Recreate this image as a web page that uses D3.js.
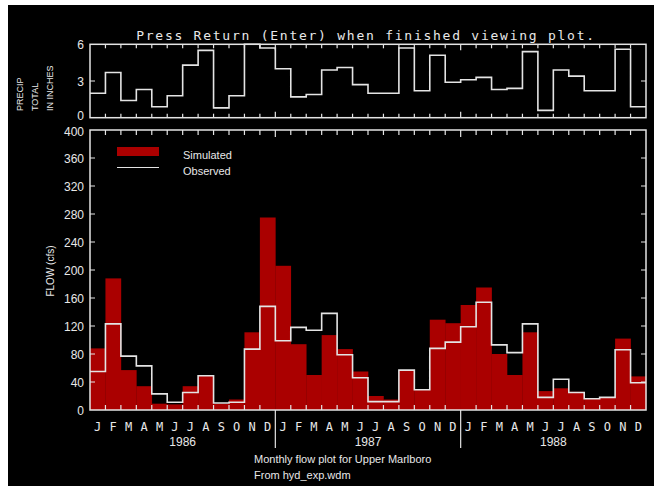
<!DOCTYPE html>
<html><head><meta charset="utf-8">
<script src="https://cdn.jsdelivr.net/npm/d3@7"></script>
<style>
html,body{margin:0;padding:0;background:#fff;}
svg{display:block;}
text{fill:#e8e8e8;}
</style></head>
<body>
<script>
const monthLetters = ["J","F","M","A","M","J","J","A","S","O","N","D"];
const years = ["1986","1987","1988"];
const simulated = [88,188,57,34,9,8,34,49,9,15,111,275,206,94,50,107,87,55,20,15,57,29,129,124,150,175,80,50,111,27,31,26,17,18,102,48];
const observed  = [55,123,77,63,23,11,25,49,10,11,87,148,99,118,114,138,79,46,12,12,57,29,88,97,119,154,93,82,123,18,44,25,16,18,86,39];
const precip    = [2.0,3.7,1.4,2.3,0.9,1.8,4.3,5.5,0.8,1.8,6.0,5.7,4.0,1.7,1.9,3.9,4.1,2.7,2.0,2.0,5.7,2.2,5.1,2.9,3.1,3.3,2.3,2.4,5.4,0.6,3.9,3.4,2.2,2.2,5.6,0.9];
const flowTicks = [0,40,80,120,160,200,240,280,320,360,400];
const precipTicks = [0,3,6];
const title = "Press Return (Enter) when finished viewing plot.";
const captions = ["Monthly flow plot for Upper Marlboro","From hyd_exp.wdm"];
const legendLabels = ["Simulated","Observed"];
const flowLabel = "FLOW (cfs)";
const precipLabels = ["PRECIP","TOTAL","IN INCHES"];

const W=654,H=486;
const RED="#aa0000", FG="#e4e4e4";
const svg=d3.select("body").append("svg").attr("width",W).attr("height",H);
svg.append("rect").attr("x",8).attr("y",5).attr("width",W-8).attr("height",H-5).attr("fill","#000");

const n=36;
const x=d3.scaleLinear().domain([0,n]).range([90,646]);
const yF=d3.scaleLinear().domain([0,400]).range([410,130]);
const yP=d3.scaleLinear().domain([0,6]).range([117.7,44.3]);
const mono="'DejaVu Sans Mono', monospace";
const sans="'Liberation Sans', Arial, sans-serif";
const narrow="'Liberation Sans Narrow', 'Liberation Sans', Arial, sans-serif";

// title
svg.append("text").attr("x",366).attr("y",40).attr("text-anchor","middle")
  .style("font-family",mono).style("font-size","13px").style("letter-spacing","1.75px").text(title);

// ---- precip panel
const gp=svg.append("g");
const stepData=d=>d.map((v,i)=>[i,v]).concat([[n,d[n-1]]]);
gp.append("path").datum(stepData(precip))
  .attr("d",d3.line().x(d=>x(d[0])).y(d=>yP(Math.min(d[1],6))).curve(d3.curveStepAfter))
  .attr("fill","none").attr("stroke",FG).attr("stroke-width",1.6);
gp.append("rect").attr("x",x(0)).attr("y",yP(6)).attr("width",x(n)-x(0)).attr("height",yP(0)-yP(6))
  .attr("fill","none").attr("stroke",FG).attr("stroke-width",1.5);
const mtick=d3.range(1,n);
gp.selectAll(".pt").data(mtick).join("line")
  .attr("x1",d=>x(d)).attr("x2",d=>x(d)).attr("y1",yP(6)).attr("y2",d=>yP(6)+(d%12===0?6:4))
  .attr("stroke",FG).attr("stroke-width",1.2);
gp.selectAll(".pb").data(mtick).join("line")
  .attr("x1",d=>x(d)).attr("x2",d=>x(d)).attr("y1",yP(0)).attr("y2",d=>yP(0)-(d%12===0?6:4))
  .attr("stroke",FG).attr("stroke-width",1.2);
gp.selectAll(".pl").data(precipTicks.slice(1,2)).join("line")
  .attr("x1",x(0)).attr("x2",x(0)+5).attr("y1",d=>yP(d)).attr("y2",d=>yP(d)).attr("stroke",FG);
gp.selectAll(".pr").data(precipTicks.slice(1,2)).join("line")
  .attr("x1",x(n)).attr("x2",x(n)-5).attr("y1",d=>yP(d)).attr("y2",d=>yP(d)).attr("stroke",FG);
gp.selectAll(".ptl").data(precipTicks).join("text")
  .attr("x",84).attr("y",d=>yP(d)+(d===0?2.5:4.5)).attr("text-anchor","end")
  .style("font-family",narrow).style("font-size","12px").text(d=>d);
const plg=gp.selectAll(".plg").data(precipLabels).join("g")
  .attr("transform",(d,i)=>"translate("+(23+i*15)+",111)");
plg.append("text").attr("transform","rotate(-90)").attr("x",0).attr("y",0)
  .attr("text-anchor","start").style("font-family",narrow).style("font-size","9px").text(d=>d);

// ---- flow panel
const gf=svg.append("g");
gf.selectAll(".bar").data(simulated).join("rect")
  .attr("x",(d,i)=>x(i)).attr("width",(d,i)=>x(i+1)-x(i)+0.3)
  .attr("y",d=>yF(d)).attr("height",d=>yF(0)-yF(d)).attr("fill",RED);
gf.append("path").datum(stepData(observed))
  .attr("d",d3.line().x(d=>x(d[0])).y(d=>yF(d[1])).curve(d3.curveStepAfter))
  .attr("fill","none").attr("stroke",FG).attr("stroke-width",1.6);
gf.append("rect").attr("x",x(0)).attr("y",yF(400)).attr("width",x(n)-x(0)).attr("height",yF(0)-yF(400))
  .attr("fill","none").attr("stroke",FG).attr("stroke-width",1.5);
gf.selectAll(".ft").data(mtick).join("line")
  .attr("x1",d=>x(d)).attr("x2",d=>x(d)).attr("y1",yF(400)).attr("y2",d=>yF(400)+(d%12===0?7:5))
  .attr("stroke",FG).attr("stroke-width",1.2);
gf.selectAll(".fb").data(mtick).join("line")
  .attr("x1",d=>x(d)).attr("x2",d=>x(d)).attr("y1",yF(0)).attr("y2",d=>d%12===0?yF(0)+38:yF(0)-5)
  .attr("stroke",FG).attr("stroke-width",1.2);
gf.selectAll(".fl").data(flowTicks.slice(1,-1)).join("line")
  .attr("x1",x(0)).attr("x2",x(0)+5).attr("y1",d=>yF(d)).attr("y2",d=>yF(d)).attr("stroke",FG);
gf.selectAll(".fr").data(flowTicks.slice(1,-1)).join("line")
  .attr("x1",x(n)).attr("x2",x(n)-5).attr("y1",d=>yF(d)).attr("y2",d=>yF(d)).attr("stroke",FG);
gf.selectAll(".ftl").data(flowTicks).join("text")
  .attr("x",84).attr("y",d=>yF(d)+(d===400?6:4.5)).attr("text-anchor","end")
  .style("font-family",narrow).style("font-size","12px").text(d=>d);
gf.append("text").attr("transform",`translate(54,271) rotate(-90)`).attr("text-anchor","middle")
  .style("font-family",narrow).style("font-size","10px").text(flowLabel);

// month labels
gf.selectAll(".ml").data(d3.range(n)).join("text")
  .attr("x",d=>(x(d)+x(d+1))/2).attr("y",431).attr("text-anchor","middle")
  .style("font-family",mono).style("font-size","12px").text(d=>monthLetters[d%12]);
gf.selectAll(".yl").data(years).join("text")
  .attr("x",(d,i)=>x(i*12+6)).attr("y",446).attr("text-anchor","middle")
  .style("font-family",narrow).style("font-size","12px").text(d=>d);

// legend
gf.append("rect").attr("x",117).attr("y",147).attr("width",42).attr("height",9).attr("fill",RED);
gf.append("line").attr("x1",117).attr("x2",159).attr("y1",167.5).attr("y2",167.5).attr("stroke",FG).attr("stroke-width",1.2);
legendLabels.forEach((t,i)=>{
  gf.append("text").attr("x",183).attr("y",159+i*16).style("font-family",sans).style("font-size","11px").text(t);
});

// captions
captions.forEach((t,i)=>{
  svg.append("text").attr("x",254).attr("y",463+i*16).style("font-family",sans).style("font-size","11px").text(t);
});
</script>
</body></html>
